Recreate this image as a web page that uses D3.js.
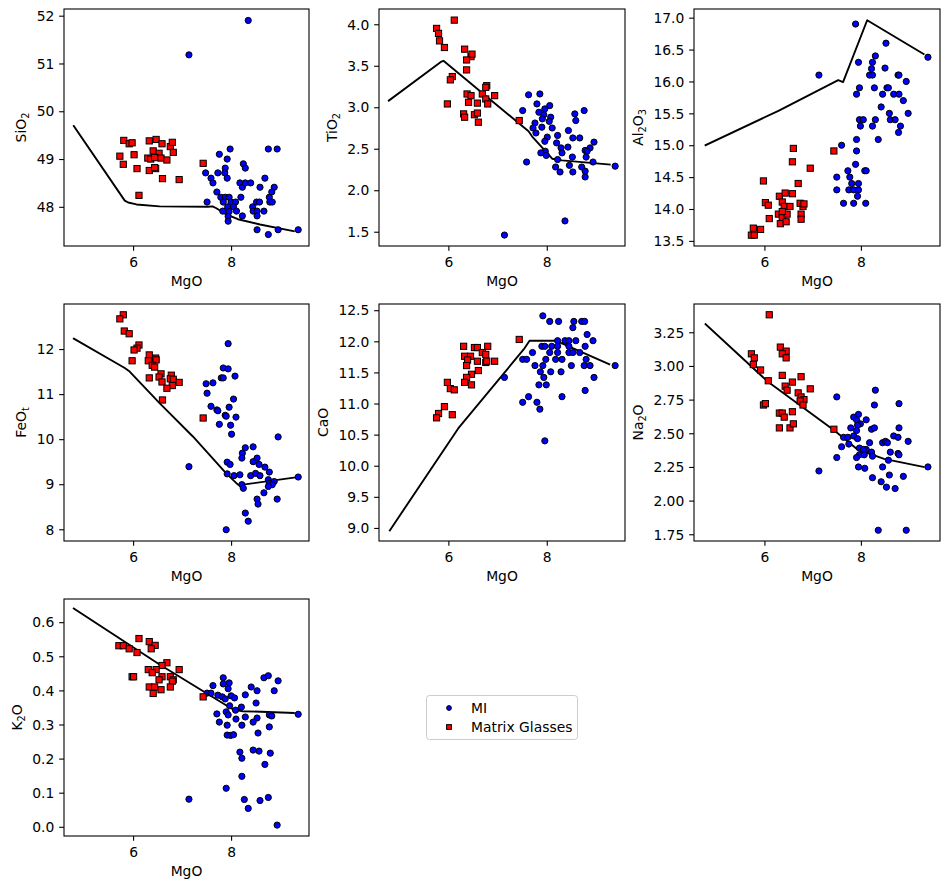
<!DOCTYPE html>
<html><head><meta charset="utf-8">
<script src="https://cdn.jsdelivr.net/npm/d3@7"></script>
<style>body{margin:0;background:#fff} text{font-family:"DejaVu Sans",sans-serif;fill:#000}</style>
</head><body>
<svg id="c" width="950" height="889"></svg>
<script>
// ---------- DATA: [MgO, oxide] pairs ----------
const seriesNames = ["MI", "Matrix Glasses"];
const xLabel = "MgO";
const xTicks = [6, 8];

const siO2MI = [[8.35,51.9],[7.14,51.18],[7.76,49.10],[7.98,49.21],[7.92,49.0],[8.25,48.9],[8.29,48.81],[8.76,49.21],[8.94,49.21],[7.48,48.71],[7.59,48.60],[7.63,48.50],[7.73,48.71],[7.88,48.81],[7.87,48.71],[7.92,48.60],[8.18,48.50],[8.23,48.41],[8.29,48.50],[8.40,48.50],[8.69,48.60],[8.59,48.41],[8.88,48.41],[8.83,48.31],[8.78,48.20],[8.79,48.10],[8.84,48.10],[7.71,48.31],[7.79,48.20],[7.88,48.20],[7.96,48.20],[8.20,48.20],[7.51,48.10],[7.84,48.10],[8.0,48.10],[8.09,48.10],[7.93,48.0],[8.05,48.0],[7.83,47.91],[7.96,47.90],[8.11,47.91],[8.23,47.81],[7.94,47.80],[7.94,47.70],[8.44,48.0],[8.52,48.10],[8.58,48.10],[8.45,47.91],[8.53,47.91],[8.67,47.91],[8.53,47.81],[8.53,47.52],[8.76,47.42],[8.96,47.52],[9.37,47.52]];
const siO2MG = [[5.81,49.39],[5.92,49.32],[5.98,49.34],[6.33,49.38],[6.47,49.41],[6.59,49.32],[6.76,49.26],[6.80,49.35],[6.82,49.14],[6.41,49.17],[6.53,49.12],[5.73,49.06],[6.02,49.09],[6.30,49.02],[6.36,49.0],[6.44,49.03],[6.57,49.02],[6.69,48.98],[5.80,48.89],[6.08,48.80],[6.33,48.76],[6.46,48.80],[6.44,48.82],[6.60,48.59],[6.94,48.57],[6.12,48.24],[7.43,48.91]];
const siO2Line = [[4.79,49.69],[5.83,48.13],[5.90,48.09],[6.07,48.05],[6.54,48.01],[7.53,48.0],[7.62,48.01],[7.70,47.97],[7.90,47.84],[8.14,47.74],[8.59,47.63],[9.28,47.49]];

const tiO2MI = [[7.63,3.15],[7.86,3.16],[7.80,3.04],[8.06,3.02],[7.96,2.98],[7.84,2.94],[7.51,2.96],[7.94,2.91],[8.08,2.88],[7.91,2.86],[8.05,2.83],[8.76,2.96],[8.57,2.92],[8.59,2.84],[7.76,2.81],[7.72,2.75],[7.78,2.69],[7.90,2.76],[8.11,2.75],[8.01,2.64],[7.96,2.59],[8.22,2.66],[8.44,2.72],[8.53,2.63],[8.67,2.63],[8.96,2.58],[8.20,2.57],[8.29,2.51],[8.43,2.52],[8.88,2.51],[8.78,2.48],[8.82,2.47],[8.31,2.45],[7.97,2.47],[7.88,2.45],[7.99,2.42],[8.52,2.40],[8.80,2.40],[8.22,2.37],[8.94,2.34],[7.59,2.34],[8.46,2.30],[8.18,2.28],[8.71,2.28],[8.27,2.22],[8.53,2.22],[8.78,2.23],[8.78,2.16],[9.39,2.29],[8.37,1.63],[7.14,1.46]];
const tiO2MG = [[6.12,4.05],[5.76,3.95],[5.80,3.89],[5.82,3.80],[5.92,3.72],[6.33,3.70],[6.46,3.61],[6.48,3.64],[6.37,3.57],[6.37,3.45],[6.08,3.37],[6.04,3.33],[6.78,3.26],[6.76,3.24],[6.38,3.16],[6.46,3.14],[6.69,3.16],[6.94,3.14],[6.76,3.10],[6.41,3.06],[6.59,3.05],[6.80,3.04],[5.98,3.04],[6.31,2.92],[6.33,2.88],[6.53,2.91],[6.59,2.93],[6.61,2.82],[7.44,2.84]];
const tiO2Line = [[4.79,3.08],[5.86,3.55],[5.90,3.56],[7.63,2.71],[7.70,2.65],[8.11,2.38],[8.31,2.36],[9.28,2.31]];

const al2O3MI = [[7.89,16.90],[8.52,16.60],[8.30,16.40],[8.24,16.30],[7.95,16.30],[8.22,16.20],[8.18,16.10],[8.24,16.10],[8.50,16.21],[8.77,16.10],[8.79,16.10],[8.94,16.0],[7.13,16.10],[7.97,15.90],[8.28,15.90],[8.54,15.90],[8.57,15.90],[7.91,15.80],[8.45,15.80],[8.68,15.80],[8.79,15.80],[8.88,15.70],[8.42,15.60],[8.59,15.50],[8.98,15.50],[7.97,15.40],[8.05,15.40],[8.30,15.40],[8.61,15.40],[8.71,15.40],[7.99,15.30],[8.24,15.30],[8.82,15.30],[8.78,15.20],[7.91,15.09],[8.36,15.09],[7.60,15.0],[7.91,14.91],[7.89,14.70],[7.73,14.60],[8.08,14.60],[8.11,14.60],[7.50,14.50],[7.77,14.50],[7.81,14.40],[7.95,14.40],[7.50,14.30],[7.75,14.30],[7.85,14.30],[7.95,14.30],[7.93,14.20],[7.64,14.09],[7.85,14.09],[8.10,14.09],[9.39,16.38]];
const al2O3MG = [[6.60,14.95],[6.58,14.74],[6.95,14.64],[7.44,14.91],[5.98,14.44],[6.70,14.40],[6.31,14.20],[6.43,14.25],[6.58,14.24],[6.02,14.10],[6.08,14.06],[6.37,14.11],[6.41,14.04],[6.53,14.04],[6.74,14.09],[6.80,14.04],[6.82,14.08],[6.10,13.85],[6.29,13.92],[6.37,13.87],[6.47,13.92],[6.37,13.96],[6.76,13.92],[6.76,13.84],[6.33,13.77],[6.45,13.80],[5.77,13.70],[5.92,13.68],[5.73,13.59],[5.79,13.59]];
const al2O3Line = [[4.78,15.0],[6.29,15.54],[7.53,16.02],[7.63,15.99],[8.13,16.96],[9.30,16.43]];

const feOMI = [[7.94,12.12],[7.84,11.58],[7.94,11.56],[7.80,11.36],[7.84,11.36],[8.08,11.40],[7.49,11.23],[7.63,11.25],[7.51,11.02],[8.05,10.89],[7.59,10.73],[7.71,10.65],[7.73,10.63],[7.96,10.71],[7.88,10.53],[7.90,10.51],[8.10,10.49],[7.76,10.33],[7.99,10.31],[8.01,10.11],[8.96,10.05],[8.29,9.81],[8.45,9.83],[8.23,9.69],[8.22,9.58],[8.53,9.58],[8.45,9.50],[8.57,9.44],[8.69,9.38],[7.92,9.49],[7.98,9.44],[7.14,9.39],[8.78,9.27],[7.92,9.23],[8.06,9.19],[8.18,9.21],[8.40,9.19],[8.50,9.24],[8.59,9.19],[8.76,9.10],[8.78,9.02],[8.88,9.06],[8.84,8.99],[8.22,8.99],[8.25,8.91],[8.76,8.95],[8.67,8.81],[8.53,8.67],[8.55,8.56],[8.94,8.67],[8.29,8.36],[8.35,8.18],[7.90,7.99],[9.37,9.16]];
const feOMG = [[5.80,12.76],[5.73,12.67],[5.82,12.40],[5.92,12.34],[6.12,12.09],[6.08,12.02],[6.02,11.98],[5.98,11.74],[6.33,11.87],[6.46,11.80],[6.31,11.74],[6.47,11.76],[6.39,11.64],[6.44,11.60],[6.33,11.36],[6.57,11.45],[6.53,11.38],[6.78,11.42],[6.59,11.27],[6.76,11.34],[6.82,11.33],[6.80,11.19],[6.69,11.13],[6.94,11.26],[6.60,10.87],[7.43,10.47]];
const feOLine = [[4.79,12.23],[5.83,11.58],[5.93,11.50],[6.54,10.80],[7.22,10.06],[7.90,9.24],[8.14,8.99],[8.24,8.99],[9.30,9.15]];

const caOMI = [[7.92,12.41],[8.06,12.32],[8.24,12.32],[8.55,12.32],[8.71,12.32],[8.77,12.32],[8.53,12.22],[8.82,12.11],[8.94,12.01],[8.22,12.01],[8.37,12.01],[8.45,12.01],[8.59,12.01],[7.90,11.92],[7.96,11.92],[8.10,11.92],[8.22,11.92],[8.45,11.92],[8.78,11.92],[7.71,11.82],[8.06,11.82],[8.22,11.82],[8.45,11.82],[8.53,11.82],[8.67,11.82],[7.51,11.71],[7.59,11.71],[7.98,11.71],[8.18,11.71],[8.31,11.71],[8.80,11.71],[7.76,11.61],[7.92,11.61],[8.50,11.61],[8.76,11.61],[8.88,11.61],[9.39,11.61],[7.87,11.51],[8.08,11.51],[8.29,11.51],[7.14,11.42],[7.94,11.42],[8.96,11.42],[7.84,11.30],[7.99,11.30],[8.78,11.21],[7.63,11.11],[8.31,11.11],[7.51,11.02],[7.80,11.02],[7.86,10.91],[7.96,10.40]];
const caOMG = [[7.44,12.03],[6.31,11.92],[6.53,11.90],[6.59,11.90],[6.80,11.92],[6.69,11.82],[6.76,11.79],[6.33,11.76],[6.45,11.76],[6.39,11.70],[6.59,11.68],[6.76,11.66],[6.78,11.68],[6.94,11.68],[6.37,11.61],[6.61,11.53],[6.47,11.47],[6.37,11.42],[6.33,11.34],[6.47,11.30],[5.98,11.34],[6.04,11.24],[6.12,11.22],[5.92,10.95],[5.80,10.84],[5.76,10.77],[6.08,10.82]];
const caOLine = [[4.81,8.96],[6.20,10.60],[7.53,11.87],[7.65,12.01],[8.18,12.01],[9.27,11.63]];

const na2OMI = [[8.30,2.82],[7.50,2.77],[8.28,2.71],[8.79,2.72],[7.95,2.64],[7.85,2.62],[7.91,2.60],[8.11,2.60],[7.99,2.57],[7.93,2.56],[7.91,2.52],[7.79,2.54],[8.22,2.53],[8.28,2.54],[8.79,2.54],[7.64,2.47],[7.73,2.47],[7.85,2.48],[7.93,2.46],[8.68,2.48],[8.77,2.47],[8.98,2.44],[8.18,2.43],[8.45,2.43],[8.51,2.44],[8.55,2.43],[7.60,2.40],[7.75,2.42],[7.97,2.39],[8.11,2.38],[8.05,2.38],[8.22,2.36],[8.61,2.36],[8.77,2.35],[8.79,2.34],[7.97,2.34],[7.91,2.32],[8.07,2.34],[8.24,2.33],[8.57,2.30],[7.50,2.32],[7.95,2.25],[8.08,2.24],[8.45,2.25],[9.39,2.25],[7.13,2.22],[8.59,2.19],[8.88,2.18],[8.24,2.17],[8.42,2.14],[8.53,2.10],[8.71,2.09],[8.36,1.78],[8.94,1.78]];
const na2OMG = [[6.10,3.38],[5.73,3.09],[5.79,3.06],[5.77,3.01],[5.92,2.97],[6.08,2.89],[6.33,3.14],[6.45,3.11],[6.37,3.09],[6.45,3.06],[6.37,2.93],[6.58,2.88],[6.76,2.92],[6.95,2.83],[6.43,2.85],[6.47,2.82],[6.70,2.80],[6.76,2.77],[6.82,2.75],[6.74,2.74],[6.80,2.71],[5.98,2.71],[6.02,2.72],[6.31,2.65],[6.37,2.65],[6.58,2.66],[6.41,2.62],[6.31,2.54],[6.53,2.54],[6.60,2.57],[7.44,2.53]];
const na2OLine = [[4.78,3.31],[6.08,2.88],[7.45,2.52],[7.93,2.38],[8.48,2.31],[9.30,2.25]];

const k2OMI = [[8.67,0.437],[8.76,0.443],[8.96,0.428],[7.84,0.437],[7.96,0.422],[7.63,0.414],[7.84,0.419],[7.94,0.405],[8.41,0.410],[8.88,0.399],[8.53,0.399],[8.29,0.387],[7.51,0.392],[7.59,0.392],[7.73,0.386],[7.82,0.381],[7.88,0.375],[8.00,0.384],[8.07,0.378],[8.51,0.363],[7.97,0.355],[8.21,0.351],[8.09,0.342],[7.71,0.331],[7.90,0.337],[7.94,0.328],[8.78,0.328],[8.83,0.325],[8.10,0.316],[8.29,0.322],[8.53,0.319],[8.45,0.307],[7.76,0.307],[7.92,0.298],[8.22,0.298],[8.78,0.293],[8.55,0.275],[7.92,0.269],[7.99,0.268],[8.05,0.270],[8.18,0.219],[8.45,0.225],[8.57,0.222],[8.80,0.216],[8.22,0.201],[8.69,0.183],[8.22,0.148],[7.90,0.113],[7.14,0.081],[8.27,0.080],[8.59,0.077],[8.76,0.086],[8.35,0.054],[8.94,0.005],[9.37,0.330]];
const k2OMG = [[6.12,0.552],[6.33,0.543],[6.45,0.532],[6.37,0.522],[5.71,0.531],[5.80,0.531],[5.92,0.522],[6.08,0.511],[6.69,0.481],[6.59,0.473],[6.31,0.461],[6.47,0.461],[6.94,0.461],[6.39,0.452],[6.59,0.440],[5.98,0.440],[6.01,0.440],[6.76,0.440],[6.82,0.431],[6.53,0.431],[6.80,0.427],[6.33,0.410],[6.44,0.410],[6.76,0.410],[6.57,0.402],[6.41,0.391],[7.43,0.381]];
const k2OLine = [[4.79,0.640],[6.54,0.476],[8.04,0.344],[8.24,0.339],[9.28,0.334]];

// y-axis labels (parts alternate normal / subscript)
const labelSiO2 = ["SiO","2"], labelTiO2 = ["TiO","2"], labelAl2O3 = ["Al","2","O","3"],
      labelFeO = ["FeO","t"], labelCaO = ["CaO"], labelNa2O = ["Na","2","O"], labelK2O = ["K","2","O"];
const ticksSiO2 = [48,49,50,51,52], ticksTiO2 = [1.5,2.0,2.5,3.0,3.5,4.0],
      ticksAl2O3 = [13.5,14.0,14.5,15.0,15.5,16.0,16.5,17.0], ticksFeO = [8,9,10,11,12],
      ticksCaO = [9.0,9.5,10.0,10.5,11.0,11.5,12.0,12.5], ticksNa2O = [1.75,2.00,2.25,2.50,2.75,3.00,3.25],
      ticksK2O = [0.0,0.1,0.2,0.3,0.4,0.5,0.6];

// ---------- LAYOUT ----------
const colLeft = [64, 379, 694], colW = [245, 246, 246];
const rowTop = [9, 304, 599], rowH = 237;
const xDom = [[4.59, 9.59], [4.59, 9.59], [4.54, 9.64]];

const panels = [
  {r:0,c:0,mi:siO2MI,mg:siO2MG,line:siO2Line,label:labelSiO2,ticks:ticksSiO2,fmt:"d",dom:[47.18,52.14]},
  {r:0,c:1,mi:tiO2MI,mg:tiO2MG,line:tiO2Line,label:labelTiO2,ticks:ticksTiO2,fmt:".1f",dom:[1.328,4.184]},
  {r:0,c:2,mi:al2O3MI,mg:al2O3MG,line:al2O3Line,label:labelAl2O3,ticks:ticksAl2O3,fmt:".1f",dom:[13.42,17.136]},
  {r:1,c:0,mi:feOMI,mg:feOMG,line:feOLine,label:labelFeO,ticks:ticksFeO,fmt:"d",dom:[7.74,13.0]},
  {r:1,c:1,mi:caOMI,mg:caOMG,line:caOLine,label:labelCaO,ticks:ticksCaO,fmt:".1f",dom:[8.79,12.6]},
  {r:1,c:2,mi:na2OMI,mg:na2OMG,line:na2OLine,label:labelNa2O,ticks:ticksNa2O,fmt:".2f",dom:[1.70,3.46]},
  {r:2,c:0,mi:k2OMI,mg:k2OMG,line:k2OLine,label:labelK2O,ticks:ticksK2O,fmt:".1f",dom:[-0.027,0.668]},
];

const FS = 13.89, TL = 4.86, TP = 4.86;
const svg = d3.select("#c");

function markerCircle(g, cx, cy, r) {
  g.append("circle").attr("cx", cx).attr("cy", cy).attr("r", r)
    .attr("fill", "#0000ff").attr("stroke", "#000").attr("stroke-width", 1);
}
function markerSquare(g, cx, cy, s) {
  g.append("rect").attr("x", cx - s/2).attr("y", cy - s/2).attr("width", s).attr("height", s)
    .attr("fill", "#ff0000").attr("stroke", "#000").attr("stroke-width", 1);
}

panels.forEach(p => {
  const L = colLeft[p.c], T = rowTop[p.r], W = colW[p.c], H = rowH;
  const x = d3.scaleLinear().domain(xDom[p.c]).range([L, L + W]);
  const y = d3.scaleLinear().domain(p.dom).range([T + H, T]);
  const g = svg.append("g");
  const clipId = "clip" + p.r + p.c;
  g.append("clipPath").attr("id", clipId).append("rect").attr("x", L).attr("y", T).attr("width", W).attr("height", H);
  const plot = g.append("g").attr("clip-path", `url(#${clipId})`);

  plot.append("path").datum(p.line)
    .attr("d", d3.line().x(d => x(d[0])).y(d => y(d[1])))
    .attr("fill", "none").attr("stroke", "#000").attr("stroke-width", 1.9)
    .attr("stroke-linejoin", "round").attr("stroke-linecap", "square");

  p.mi.forEach(d => markerCircle(plot, x(d[0]), y(d[1]), 3.1));
  p.mg.forEach(d => markerSquare(plot, x(d[0]), y(d[1]), 6.2));

  // axes
  const xa = g.append("g").attr("transform", `translate(0,${T + H})`)
    .call(d3.axisBottom(x).tickValues(xTicks).tickFormat(d3.format("d")).tickSize(TL).tickPadding(TP));
  const ya = g.append("g").attr("transform", `translate(${L},0)`)
    .call(d3.axisLeft(y).tickValues(p.ticks).tickFormat(d3.format(p.fmt)).tickSize(TL).tickPadding(TP));
  [xa, ya].forEach(a => {
    a.select(".domain").remove();
    a.selectAll("line").attr("stroke", "#000").attr("stroke-width", 1.1);
    a.selectAll("text").attr("font-size", FS).attr("font-family", '"DejaVu Sans",sans-serif').attr("fill", "#000");
  });
  xa.selectAll("text").attr("dy", null).attr("y", 21).attr("dominant-baseline", "auto");
  ya.selectAll("text").attr("dy", "0.34em");

  g.append("rect").attr("x", L).attr("y", T).attr("width", W).attr("height", H)
    .attr("fill", "none").attr("stroke", "#000").attr("stroke-width", 1.1);

  // x label
  g.append("text").attr("x", L + W/2).attr("y", T + H + 40).attr("text-anchor", "middle")
    .attr("font-size", FS).text(xLabel);

  // y label
  let maxW = 0;
  ya.selectAll("text").each(function(){ maxW = Math.max(maxW, this.getBBox().width); });
  const lx = L - TL - TP - maxW - 5.6 - 4.7;
  const cy = T + H/2;
  const yl = g.append("text").attr("transform", `translate(${lx},${cy}) rotate(-90)`)
    .attr("text-anchor", "middle").attr("font-size", FS);
  p.label.forEach((s, i) => {
    const t = yl.append("tspan").text(s);
    if (i % 2 === 1) { t.attr("font-size", FS * 0.7).attr("dy", 3); }
    else if (i > 0) { t.attr("dy", -3); }
  });
});

// ---------- LEGEND ----------
const lg = svg.append("g");
lg.append("rect").attr("x", 426.5).attr("y", 695.5).attr("width", 151).attr("height", 44)
  .attr("rx", 3).attr("fill", "#fff").attr("fill-opacity", 0.8).attr("stroke", "#cccccc").attr("stroke-width", 1);
markerCircle(lg, 449, 708, 2.4);
markerSquare(lg, 449, 727, 4.8);
lg.append("text").attr("x", 471).attr("y", 713).attr("font-size", FS).text(seriesNames[0]);
lg.append("text").attr("x", 471).attr("y", 732).attr("font-size", FS).text(seriesNames[1]);
</script>
</body></html>
